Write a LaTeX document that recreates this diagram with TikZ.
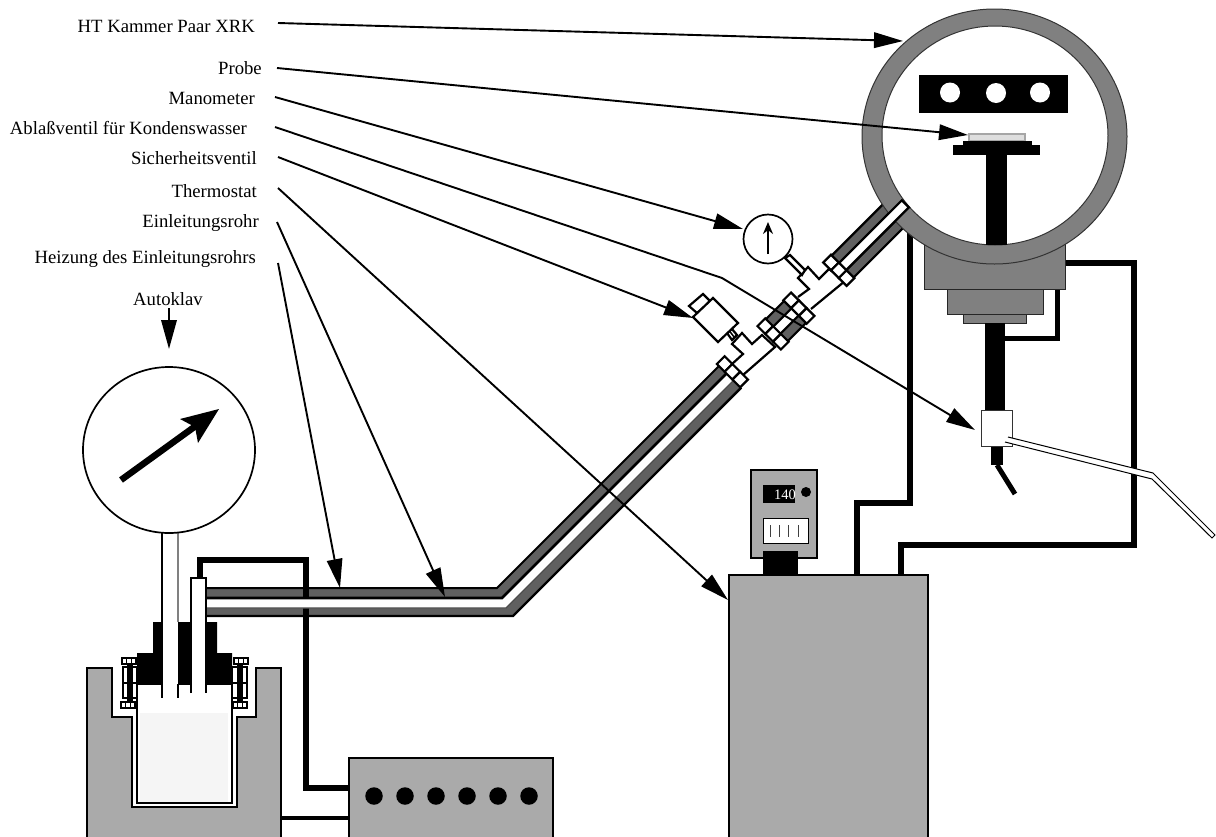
\documentclass[tikz,border=0pt]{standalone}
\usepackage{fontspec}
\setmainfont{Liberation Serif}
\usetikzlibrary{arrows.meta}
\definecolor{boxgray}{HTML}{AAAAAA}
\definecolor{ringgray}{HTML}{808080}
\definecolor{tubegray}{HTML}{606060}
\tikzset{
  lab/.style={anchor=base east,inner sep=0pt,font=\fontsize{18.7}{20}\selectfont},
  callout/.style={line width=1.9pt,-{Triangle[length=29pt,width=15.5pt]}},
  wire/.style={line width=5.5pt,miter limit=10},
  body/.style={fill=boxgray,draw=black,line width=1.6pt},
  flange/.style={fill=ringgray,draw=black!85,line width=1pt},
  tube/.style={fill=tubegray,draw=black,line width=2.2pt},
  pipe/.style={fill=white,draw=black,line width=2.2pt},
  cell/.style={fill=white,draw=black,line width=1.8pt},
  hole/.style={circle,fill=black,minimum size=17.5pt,inner sep=0pt},
}
\newcommand{\couplingat}[2]{%
  \foreach \k in {-1,0,1}{
    \draw[pipe] ({#1-5.5},{#2+\k*11-5.5}) rectangle ({#1+5.5},{#2+\k*11+5.5});
  }}
\newcommand{\capcells}[3]{%
  \draw[cell,line width=1.2pt] (#1,#2) rectangle ++(14,#3);
  \draw[line width=1.2pt] ({#1+4.7},#2) -- ++(0,#3) ({#1+9.3},#2) -- ++(0,#3);}
\begin{document}
\begin{tikzpicture}[x=1pt,y=-1pt]
\useasboundingbox (0,0) rectangle (1216,836);
% ---------- labels
\node[lab] (lHT)  at (255,32)  {HT Kammer Paar XRK};
\node[lab] (lPr)  at (262,74)  {Probe};
\node[lab] (lMa)  at (255,104) {Manometer};
\node[lab] (lAb)  at (247,134) {Ablaßventil für Kondenswasser};
\node[lab] (lSi)  at (257,164) {Sicherheitsventil};
\node[lab] (lTh)  at (257,197) {Thermostat};
\node[lab] (lEi)  at (259,227) {Einleitungsrohr};
\node[lab] (lHe)  at (256,263) {Heizung des Einleitungsrohrs};
\node[lab] (lAu)  at (203,305) {Autoklav};
% ---------- autoclave
\draw[body] (87,668) -- (112,668) -- (112,717) -- (132,717) -- (132,807) -- (237,807) -- (237,717) -- (256,717) -- (256,668) -- (281,668) -- (281,840) -- (87,840) -- cycle;
\draw[fill=white,draw=black,line width=2pt] (137,684) rectangle (232,803);
\fill[black!4] (140,713) rectangle (228,801.5);
\fill[black] (137,684) -- (137,653) -- (153,653) -- (153,622) -- (217,622) -- (217,653) -- (232,653) -- (232,684) -- cycle;
% bolts
\draw[cell] (123,667) rectangle (137,698);
\draw[line width=1.8pt] (123,683) -- (137,683);
\fill[black] (127,664) rectangle (132.5,702);
\capcells{122}{658}{6}
\capcells{121}{702}{6}
\draw[cell] (232,667) rectangle (247,698);
\draw[line width=1.8pt] (232,683) -- (247,683);
\fill[black] (237,664) rectangle (243,702);
\capcells{234}{658}{6}
\capcells{233}{702}{6}
% ---------- big gauge
\fill[white] (162,500) rectangle (178,698);
\draw[line width=1.3pt] (162,500) -- (162,698);
\draw[line width=1.3pt,ringgray] (178,500) -- (178,622);
\draw[line width=1.3pt] (178,684) -- (178,698);
\node[draw=none,inner sep=0pt] (gaugeC) at (169,450) {};
\draw[fill=white,line width=1.7pt] (gaugeC) ellipse [x radius=86,y radius=83];
\coordinate (gA) at (121,480);
\coordinate (gB) at (197,425);
\draw[line width=6.5pt] (gA) -- (gB);
\fill[black] (219,409) -- (180,419) -- (195,427) -- (198,443) -- cycle;
% ---------- lower long tube, dark bands
\fill[tubegray] (206,588) -- (497,588) -- (719.3,365.7) -- (726.7,373.3) -- (502,598) -- (206,598) -- cycle;
\fill[tubegray] (206,608) -- (506,608) -- (733.7,380.3) -- (741.2,387.7) -- (513,616) -- (206,616) -- cycle;
% heater wire of the autoclave
\draw[wire] (200,578) -- (200,560) -- (306,560) -- (306,788) -- (349,788);
\draw[wire,line width=4.5pt] (281,818) -- (349,818);
% white core and outlines
\fill[white] (206,598) -- (502,598) -- (726.7,373.3) -- (733.7,380.3) -- (506,608) -- (206,608) -- cycle;
\draw[line width=2pt] (206,588) -- (497,588) -- (719.3,365.7);
\draw[line width=2.6pt] (206,598) -- (502,598) -- (726.7,373.3);
\draw[line width=1.2pt,black!70] (206,608) -- (506,608) -- (733.7,380.3);
\draw[line width=2.4pt] (206,616) -- (513,616) -- (741.2,387.7);
% inlet tube head
\draw[fill=white,line width=1.5pt] (191,693) -- (191,578) -- (206,578) -- (206,693);
% ---------- T pieces
\filldraw[pipe] (732,364) -- (743,354) -- (732,344) -- (742,333) -- (752,344) -- (762,335) -- (775,347) -- (743,375);
\filldraw[pipe] (798,297) -- (809,289) -- (798,278) -- (808,267) -- (819,279) -- (829,269) -- (845,281) -- (811,309);
% ---------- right power wires behind chamber
\draw[wire] (857,575) -- (857,503) -- (910,503) -- (910,230);
\draw[wire] (901,575) -- (901,545) -- (1134,545) -- (1134,263) -- (1060,263);
\draw[wire,line width=5pt] (1057,285) -- (1057,338) -- (1003,338);
% ---------- tube sections on the diagonal
\begin{scope}[shift={(504,603)},rotate=45]
  \draw[tube] (385,-15.5) rectangle (412,-5);
  \draw[tube] (385,5) rectangle (412,15.5);
  \draw[pipe,draw=none] (385,-5) rectangle (412,5);
  \draw[tube] (477,-14) rectangle (556,-3.5);
  \draw[tube] (477,6.5) rectangle (556,17);
\end{scope}
% ---------- chamber
\draw[flange] (924,200) rectangle (1065,289);
\draw[flange] (947,289) rectangle (1043,314);
\draw[flange] (963,314) rectangle (1026,323);
\fill[black] (985,323) rectangle (1005,410);
\node[inner sep=0pt] (ringC) at (994.5,136.5) {};
\draw[fill=ringgray,draw=black!80,line width=1pt] (ringC) ellipse [x radius=132.5,y radius=127.5];
\draw[fill=white,draw=black!80,line width=1pt] (995,135.5) ellipse [x radius=113,y radius=109.5];
\fill[black] (919,75) rectangle (1068,113);
\fill[white] (950,92.5) circle (10) (996,93) circle (10) (1040,92.5) circle (10);
\draw[fill=black!13,draw=black!35,line width=1.5pt] (969,134) rectangle (1025,140.5);
\fill[black] (963,141) rectangle (1032,145);
\fill[black] (953,145) rectangle (1040,155);
\fill[black] (986,155) rectangle (1007,245);
% ---------- white core of the top tube, couplings
\begin{scope}[shift={(504,603)},rotate=45]
  \draw[pipe] (477,-3.5) -- (566,-3.5) -- (566,6.5) -- (477,6.5);
  \draw[line width=2pt] (385,-5) -- (412,-5) (385,5) -- (412,5);
  \couplingat{325}{-2}
  \couplingat{380.5}{0}
  \couplingat{417}{0}
  \couplingat{472}{1.5}
\end{scope}
% ---------- safety valve
\draw[pipe] (727,333) -- (732,329) -- (737,335) -- (732,340) -- cycle;
\draw[line width=1.5pt] (729.5,331) -- (734.5,337.5);
\draw[pipe] (689,306) -- (703,294) -- (711,302) -- (697,313) -- cycle;
\draw[pipe] (693,317) -- (713,298) -- (738,323) -- (718,342) -- cycle;
% ---------- small manometer
\draw[pipe] (785,258) -- (802,275) -- (805,270) -- (790,255) -- cycle;
\node[circle,draw=black,fill=white,line width=1.7pt,minimum size=49pt,inner sep=0pt] (mano) at (768,239) {};
\coordinate (mA) at (768,254);
\coordinate (mB) at (768,222);
\draw[line width=1.9pt,-{Stealth[length=12pt,width=10pt]}] (mA) -- (mB);
% ---------- thermocouple
\fill[black] (991,446) rectangle (1003,465);
\draw[line width=5pt] (997,465) -- (1015,494);
\node[draw=black!80,fill=white,line width=1pt,minimum width=31pt,minimum height=36pt,inner sep=0pt] (tc) at (996.5,428) {};
\draw[fill=white,draw=black,line width=1pt] (1008,437) -- (1153,473) -- (1215,535) -- (1212,538) -- (1152,479) -- (1005,442);
% ---------- heater box and thermostat
\draw[body] (349,758) rectangle (553,840);
\foreach \xx/\nm in {374/a,405/b,436/c,467/d,498/e,529/f}{
  \node[hole] (dot\nm) at (\xx,796) {};
}
\draw[body] (729,575) rectangle (928,840);
\draw[body] (751,470) rectangle (817,558);
\fill[black] (763,551) rectangle (798,575);
\fill[black] (763,485) rectangle (795,503);
\node[anchor=base east,inner sep=0pt,text=white,font=\fontsize{14.5}{16}\selectfont] (disp) at (796,499) {140};
\fill[black] (806,492) circle (5);
\draw[fill=white,line width=1pt] (763,518) rectangle (808,543);
\draw[line width=1pt,black!75] (770,525) -- (770,537) (779,525) -- (779,537) (788,525) -- (788,537) (798,525) -- (798,537);
% ---------- callouts
\coordinate (sHT) at (278,23);   \coordinate (tHT) at (903,41);
\coordinate (sPr) at (277,68);   \coordinate (tPr) at (968,135);
\coordinate (sMa) at (275,97);   \coordinate (tMa) at (743,229);
\coordinate (sAb) at (275,127);  \coordinate (bAb) at (722,278); \coordinate (tAb) at (975,430);
\coordinate (sSi) at (278,157);  \coordinate (tSi) at (693,318);
\coordinate (sTh) at (278,188);  \coordinate (tTh) at (728,600);
\coordinate (sEi) at (277,222);  \coordinate (tEi) at (445,597);
\coordinate (sHe) at (278,263);  \coordinate (tHe) at (340,588);
\coordinate (sAu) at (169,308);  \coordinate (tAu) at (169,349);
\draw[callout] (sHT) -- (tHT);
\draw[callout] (sPr) -- (tPr);
\draw[callout] (sMa) -- (tMa);
\draw[callout] (sAb) -- (bAb) -- (tAb);
\draw[callout] (sSi) -- (tSi);
\draw[callout] (sTh) -- (tTh);
\draw[callout] (sEi) -- (tEi);
\draw[callout] (sHe) -- (tHe);
\draw[callout] (sAu) -- (tAu);
\end{tikzpicture}
\end{document}
